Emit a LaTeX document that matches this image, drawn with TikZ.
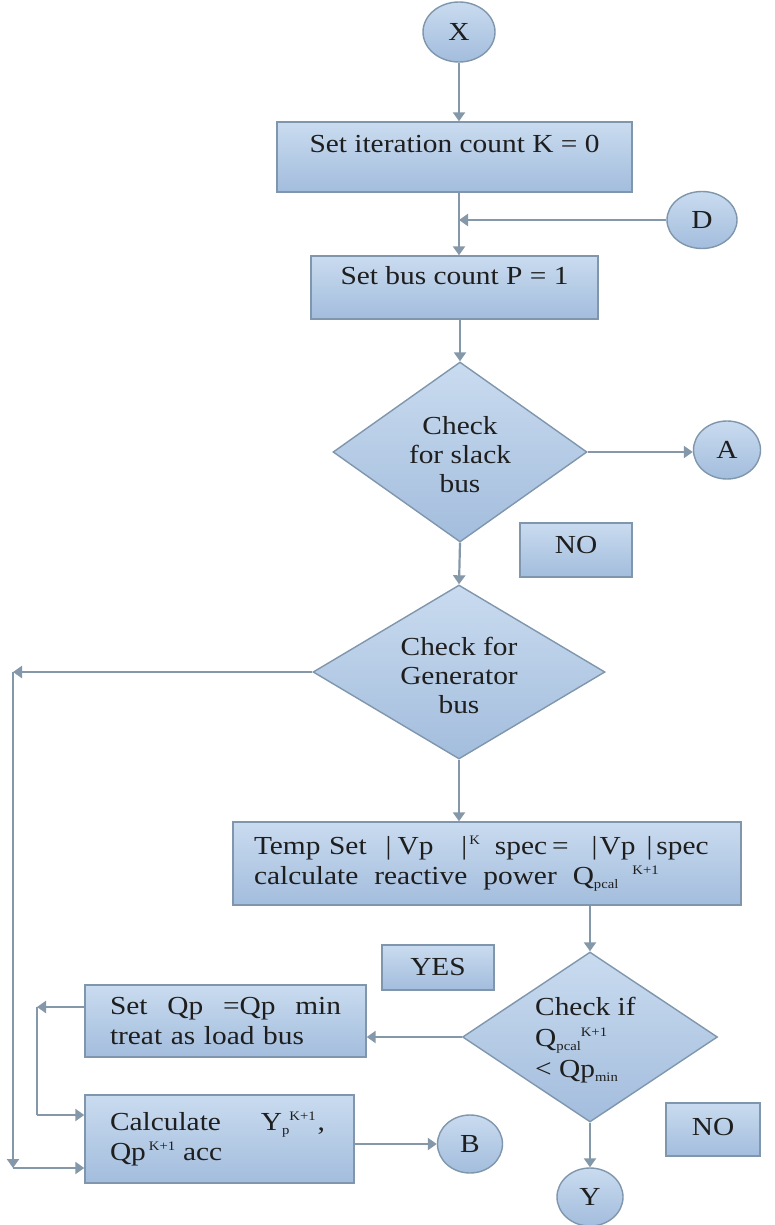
\documentclass[tikz,border=0pt]{standalone}
\usepackage{fontspec}
\setmainfont{Liberation Serif}[FakeStretch=1.13]
\usetikzlibrary{shapes.geometric,arrows.meta}
\definecolor{topc}{HTML}{C9DBEF}
\definecolor{botc}{HTML}{A3BDDD}
\definecolor{bordc}{HTML}{7F96AC}
\definecolor{arrc}{HTML}{8598AA}
\definecolor{txtc}{HTML}{1E1E1E}
\newcommand\mainfs{\fontsize{26}{30}\selectfont}
\newcommand\mysup[1]{\raisebox{10pt}{\fontsize{13}{13}\selectfont #1}}
\newcommand\mysub[1]{\raisebox{-4pt}{\fontsize{13}{13}\selectfont #1}}
\tikzset{
  fbox/.style={draw=bordc, line width=1.4pt, top color=topc, bottom color=botc,
    inner sep=0pt, font=\mainfs, text=txtc},
  rbox/.style={fbox, rectangle},
  oval/.style={fbox, ellipse},
  dia/.style={fbox, diamond},
  txt/.style={font=\fontsize{26}{29}\selectfont, text=txtc, inner sep=0pt},
  arr/.style={draw=arrc, line width=2.2pt, -{Triangle[length=9pt,width=12pt]}},
  ln/.style={draw=arrc, line width=2.2pt},
}
\begin{document}
\begin{tikzpicture}[x=1pt,y=-1pt]
\useasboundingbox[fill=white] (0,0) rectangle (775,1225);

% nodes
\node[oval, minimum width=72pt, minimum height=60pt] (X) at (459,32) {X};
\node[rbox, minimum width=355pt, minimum height=70pt, text height=18pt, text depth=26pt] (b1) at (454.5,157) {Set iteration count K = 0};
\node[oval, minimum width=70pt, minimum height=57pt] (D) at (702,220) {D};
\node[rbox, minimum width=287pt, minimum height=63pt, text height=18pt, text depth=25pt] (b2) at (454.5,287.5) {Set bus count P = 1};
\node[dia, minimum width=254pt, minimum height=180pt] (d1) at (460,452) {};
\node[txt, align=center] (d1t) at (460,455) {Check\\for slack\\bus};
\node[oval, minimum width=67pt, minimum height=58pt] (A) at (727,450) {A};
\node[rbox, minimum width=112pt, minimum height=54pt, text height=18pt, text depth=12pt] (no1) at (576,550) {NO\hspace{20pt}};
\node[dia, minimum width=292pt, minimum height=174pt] (d2) at (459,672) {};
\node[txt, align=center] (d2t) at (459,675) {Check for\\Generator\\bus};
\node[rbox, minimum width=508pt, minimum height=83pt, inner xsep=21pt, text width=466pt, align=left] (tb) at (487,863.5)
  {Temp Set\hspace{19pt}|\hspace{6pt}Vp\hspace{28pt}|\hspace{2pt}\mysup{K}\hspace{15pt}spec\hspace{5pt}=\hspace{23pt}|\hspace{2pt}Vp\hspace{11pt}|\hspace{4pt}spec\\
   calculate\hspace{16pt}reactive\hspace{16pt}power\hspace{16pt}Q\mysub{pcal}\hspace{14pt}\mysup{K+1}};
\node[rbox, minimum width=112pt, minimum height=45pt] (yes) at (438,967.5) {YES\hspace{8pt}};
\node[dia, minimum width=255pt, minimum height=170pt] (d3) at (590,1037) {};
\node[txt, align=left, anchor=west, font=\fontsize{26}{31}\selectfont] (d3t) at (535,1040)
  {Check if\\Q\mysub{pcal}\mysup{K+1}\\\textless\ Qp\mysub{min}};
\node[rbox, minimum width=281pt, minimum height=72pt, inner xsep=25pt, text width=231pt, align=left] (sq) at (225.5,1021)
  {Set\hfill Qp\hfill =Qp\hfill min\\treat as load bus};
\node[rbox, minimum width=269pt, minimum height=88pt, inner xsep=25pt, text width=219pt, align=left] (cb) at (219.5,1139)
  {Calculate\hspace{40pt}Y\mysub{p}\mysup{K+1}\hspace{2pt},\\Qp\hspace{3pt}\mysup{K+1}\hspace{8pt}acc};
\node[oval, minimum width=65pt, minimum height=58pt] (B) at (470,1144) {B};
\node[rbox, minimum width=94pt, minimum height=53pt, text height=18pt, text depth=7pt] (no2) at (713,1129.5) {NO};
\node[oval, minimum width=66pt, minimum height=58pt] (Y) at (590,1197) {Y};

% connectors
\coordinate (dj) at (459,220);
\coordinate (L1) at (13,672);
\coordinate (L2) at (13,1168);
\coordinate (M1) at (37,1007);
\coordinate (M2) at (37,1115);

\draw[arr] (X) -- (X |- b1.north);
\draw[arr] (b1.south -| X) -- (b2.north -| X);
\draw[arr] (D) -- (dj);
\draw[arr] (d1.north |- b2.south) -- (d1.north);
\draw[arr] (d1.east) -- (d1.east -| A.west);
\draw[arr] (d1.south) -- (d2.north);
\draw[arr] (d2.west) -- (L1);
\draw[arr] (L1) -- (L2);
\draw[arr] (L2) -- (L2 -| cb.west);
\draw[arr] (d2.south) -- (d2.south |- tb.north);
\draw[arr] (tb.south -| d3.north) -- (d3.north);
\draw[arr] (d3.west) -- (d3.west -| sq.east);
\draw[arr] (M1 -| sq.west) -- (M1);
\draw[ln] (M1) -- (M2);
\draw[arr] (M2) -- (M2 -| cb.west);
\draw[arr] (cb.east |- B.west) -- (B.west);
\draw[arr] (d3.south) -- (Y.north);
\end{tikzpicture}
\end{document}
